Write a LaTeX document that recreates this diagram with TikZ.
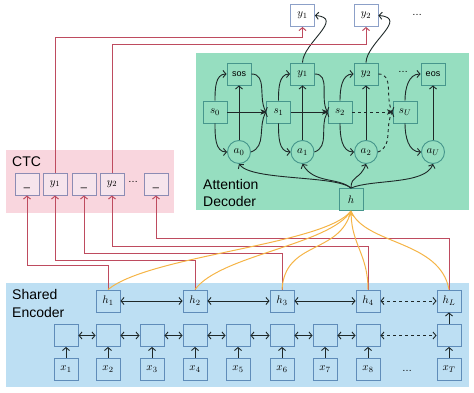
\documentclass[tikz,border=0pt]{standalone}
\usepackage{fontspec}
\setmainfont{Liberation Sans}
\usetikzlibrary{arrows.meta,calc}
\definecolor{encbg}{RGB}{189,223,243}
\definecolor{encdraw}{RGB}{95,140,185}
\definecolor{decbg}{RGB}{150,222,192}
\definecolor{decdraw}{RGB}{70,150,140}
\definecolor{ctcbg}{RGB}{249,214,222}
\definecolor{ctcfill}{RGB}{246,228,236}
\definecolor{ctcdraw}{RGB}{140,140,180}
\definecolor{topdraw}{RGB}{140,160,200}
\definecolor{redl}{RGB}{190,75,95}
\definecolor{orng}{RGB}{245,180,70}
\definecolor{dark}{RGB}{30,40,40}
\begin{document}
\begin{tikzpicture}[x=1pt,y=1pt,
  >={Straight Barb[length=3pt,width=7pt]},
  basebox/.style={line width=0.9pt, minimum width=24pt, minimum height=22pt, inner sep=0pt, font=\fontsize{11}{13}\selectfont},
  ebox/.style={basebox, draw=encdraw, fill=encbg},
  dbox/.style={basebox, draw=decdraw, fill=decbg},
  dcirc/.style={circle, line width=0.9pt, draw=decdraw, fill=decbg, minimum size=23pt, inner sep=0pt, font=\fontsize{11}{13}\selectfont},
  cbox/.style={basebox, draw=ctcdraw, fill=ctcfill},
  ubox/.style={cbox, text height=7pt, text depth=2pt},
  tbox/.style={basebox, draw=topdraw, fill=white},
  area/.style={font=\fontsize{14}{16}\selectfont, anchor=base west, inner sep=0pt},
  dotf/.style={font=\fontsize{10}{12}\selectfont, inner sep=0pt},
  dk/.style={draw=dark, line width=0.9pt, ->},
  dkb/.style={draw=dark, line width=0.9pt, <->},
  sarr/.style={draw=dark, line width=0.9pt, -{Stealth[length=5.5pt,width=5.5pt]}},
  rl/.style={draw=redl, line width=1pt, ->},
  og/.style={draw=orng, line width=1pt}
]
\useasboundingbox (0,0) rectangle (474,393);
% backgrounds
\fill[encbg] (6,6) rectangle (469,110);
\fill[decbg] (196,183) rectangle (469,340);
\fill[ctcbg] (6,180) rectangle (174,243);
% area labels
\node[area] (tshared) at (12,93) {Shared};
\node[area] (tencoder) at (12,75) {Encoder};
\node[area] (tattention) at (203,203) {Attention};
\node[area] (tdecoder) at (203,186) {Decoder};
\node[area] (tctc) at (12,226) {CTC};
% encoder
\foreach \n/\x/\l in {1/66/x_1,2/108/x_2,3/152/x_3,4/195/x_4,5/238/x_5,6/282/x_6,7/325/x_7,8/368/x_8,9/449/x_T}{
  \node[ebox] (x\n) at (\x,24) {$\l$};
  \node[ebox] (m\n) at (\x,57.5) {};
  \draw[dk] (x\n) -- (m\n);
}
\node[dotf] (edots) at (407,22) {\dots};
\foreach \i/\j in {1/2,2/3,3/4,4/5,5/6,6/7,7/8}{\draw[dkb] (m\i) -- (m\j);}
\draw[dkb,dashed] (m8) -- (m9);
\node[ebox] (h1) at (108,92) {$h_1$};
\node[ebox] (h2) at (195,92) {$h_2$};
\node[ebox] (h3) at (282,92) {$h_3$};
\node[ebox] (h4) at (368,92) {$h_4$};
\node[ebox] (hL) at (449,92) {$h_L$};
\draw[dk] (m9) -- (hL);
\draw[dkb] (h1) -- (h2);
\draw[dkb] (h2) -- (h3);
\draw[dkb] (h3) -- (h4);
\draw[dkb,dashed] (h4) -- (hL);
% decoder
\node[dbox] (o0) at (239,319) {\fontsize{9}{10}\selectfont sos};
\node[dbox] (o1) at (302.5,319) {$y_1$};
\node[dbox] (o2) at (366,319) {$y_2$};
\node[dbox] (oU) at (433,319) {\fontsize{9}{10}\selectfont eos};
\node[dotf] (odots) at (403,321) {\dots};
\node[dbox] (s0) at (215,281) {$s_0$};
\node[dbox] (s1) at (278.5,281) {$s_1$};
\node[dbox] (s2) at (340,281) {$s_2$};
\node[dbox] (sU) at (405,281) {$s_U$};
\node[dcirc] (a0) at (239,241) {$a_0$};
\node[dcirc] (a1) at (302.5,241) {$a_1$};
\node[dcirc] (a2) at (366,241) {$a_2$};
\node[dcirc] (aU) at (433,241) {$a_U$};
\node[dbox] (h) at (351,193.5) {$h$};
\foreach \i in {0,1,2,U}{
  \draw[dk] (a\i) -- (o\i);
  \draw[dk] (s\i.north) to[out=90,in=180] (o\i.west);
  \draw[dk] (s\i.south) to[out=-90,in=180] (a\i.west);
}
\foreach \i/\j in {0/1,1/2}{
  \draw[sarr] (s\i) -- (s\j);
  \draw[dk] (o\i.east) to[out=0,in=120] (s\j.west);
  \draw[dk] (a\i.east) to[out=20,in=-120] (s\j.west);
}
\draw[sarr,dashed] (s2) -- (sU);
\draw[dk,dashed] (o2.east) to[out=0,in=120] (sU.west);
\draw[dk,dashed] (a2.east) to[out=20,in=-120] (sU.west);
% h to attention
\draw[dk] (h.north) .. controls (335,218) and (252,212) .. (a0.south);
\draw[dk] (h.north) .. controls (338,216) and (314,209) .. (a1.south);
\draw[dk] (h.north) .. controls (351,218) and (360,213) .. (a2.south);
\draw[dk] (h.north) .. controls (372,214) and (425,208) .. (aU.south);
% top outputs
\node[tbox] (ty1) at (302.5,377.5) {$y_1$};
\node[tbox] (ty2) at (366,377.5) {$y_2$};
\node[dotf] (tdots) at (417,378) {\dots};
\draw[dk] (o1.north) .. controls (303,350) and (345,375) .. (ty1.east);
\draw[dk] (o2.north) .. controls (366.5,350) and (409,375) .. (ty2.east);
% CTC
\node[ubox] (c1) at (27,209) {\_};
\node[cbox] (c2) at (55,209) {$y_1$};
\node[ubox] (c3) at (84,209) {\_};
\node[cbox] (c4) at (112,209) {$y_2$};
\node[dotf] (cdots) at (133,211) {\dots};
\node[ubox] (c5) at (156,209) {\_};
% red connections
\draw[rl] (c2) -- (c2 |- 0,355.3) -| (ty1);
\draw[rl] (c4) -- (c4 |- 0,348) -| (ty2);
\draw[rl] (h1) -- (h1 |- 0,127) -| (c1);
\draw[rl] (h2) -- (h2 |- 0,132.5) -| (c2);
\draw[rl] (h3) -- (h3 |- 0,139.7) -| (c3);
\draw[rl] (h4) -- (h4 |- 0,146.5) -| (c4);
\draw[rl] (hL) -- (hL |- 0,154.7) -| (c5);
% orange attention links
\draw[og] (h.south) .. controls (325,148) and (150,138) .. (h1.north);
\draw[og] (h.south) .. controls (330,148) and (220,138) .. (h2.north);
\draw[og] (h.south) .. controls (340,138) and (285,153) .. (h3.north);
\draw[og] (h.south) .. controls (365,148) and (440,153) .. (hL.north);
\draw[og, {Stealth[length=6pt,width=6pt]}-] (h.south) .. controls (352,148) and (368,138) .. (h4.north);
\end{tikzpicture}
\end{document}
